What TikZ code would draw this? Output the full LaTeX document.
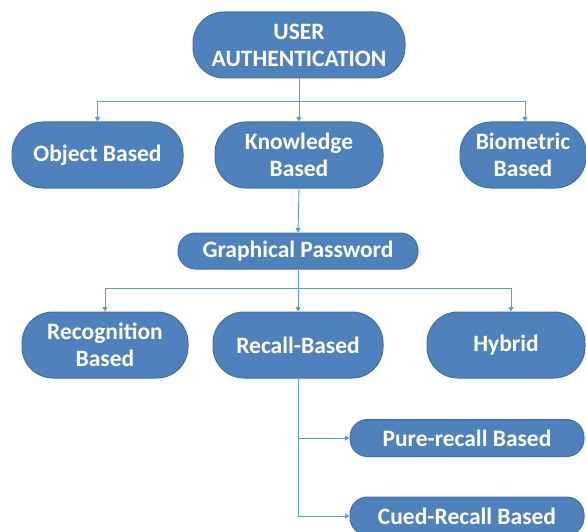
\documentclass[tikz,border=0pt]{standalone}
\usepackage{fontspec}
\setmainfont{Carlito}
\usetikzlibrary{arrows.meta}
\definecolor{boxfill}{RGB}{79,129,189}
\definecolor{boxedge}{RGB}{65,113,160}
\definecolor{linecol}{RGB}{91,155,213}
\tikzset{
  pill/.style={draw=boxedge, line width=1pt, fill=boxfill, text=white,
    rounded corners=31pt, align=center, inner sep=0pt,
    font=\fontsize{23.5}{27}\selectfont\bfseries},
  flat/.style={pill, rounded corners=17.5pt},
  conn/.style={draw=linecol, line width=0.9pt},
  arr/.style={conn, -{Triangle[width=5pt,length=4.5pt]}}
}
\begin{document}
\begin{tikzpicture}[x=1pt,y=-1pt]
\clip (0,0) rectangle (586,532);
\node[pill, minimum width=212pt, minimum height=66pt] (ua) at (299,45) {USER\\AUTHENTICATION};
\node[pill, minimum width=171pt, minimum height=66pt] (ob) at (97.5,155) {Object Based};
\node[pill, minimum width=168pt, minimum height=66pt] (kb) at (299,155) {Knowledge\\Based};
\node[pill, minimum width=126pt, minimum height=66pt] (bb) at (523,155) {Biometric\\Based};
\node[flat, minimum width=240pt, minimum height=36pt] (gp) at (298,251) {Graphical Password};
\node[pill, minimum width=166pt, minimum height=66pt] (rg) at (105,345) {Recognition\\Based};
\node[pill, minimum width=170pt, minimum height=66pt] (rc) at (298,345) {Recall-Based};
\node[pill, minimum width=158pt, minimum height=66pt] (hy) at (506,345) {Hybrid};
\node[flat, minimum width=234pt, minimum height=37pt] (pr) at (467,438) {Pure-recall Based};
\node[flat, minimum width=234pt, minimum height=38pt] (cr) at (467,516) {Cued-Recall Based};
\coordinate (j1) at (299,101);
\coordinate (j2) at (298,288);
\draw[conn] (ua.south) -- (j1);
\draw[arr] (j1) -| (ob.north);
\draw[arr] (j1) -- (kb.north);
\draw[arr] (j1) -| ([xshift=2pt]bb.north);
\draw[arr] (kb.south) -- (gp.north);
\draw[conn] (gp.south) -- (j2);
\draw[arr] (j2) -| (rg.north);
\draw[arr] (j2) -- (rc.north);
\draw[arr] (j2) -| ([xshift=5pt]hy.north);
\draw[arr] (rc.south) |- (pr.west);
\draw[arr] (rc.south) |- (cr.west);
\end{tikzpicture}
\end{document}
